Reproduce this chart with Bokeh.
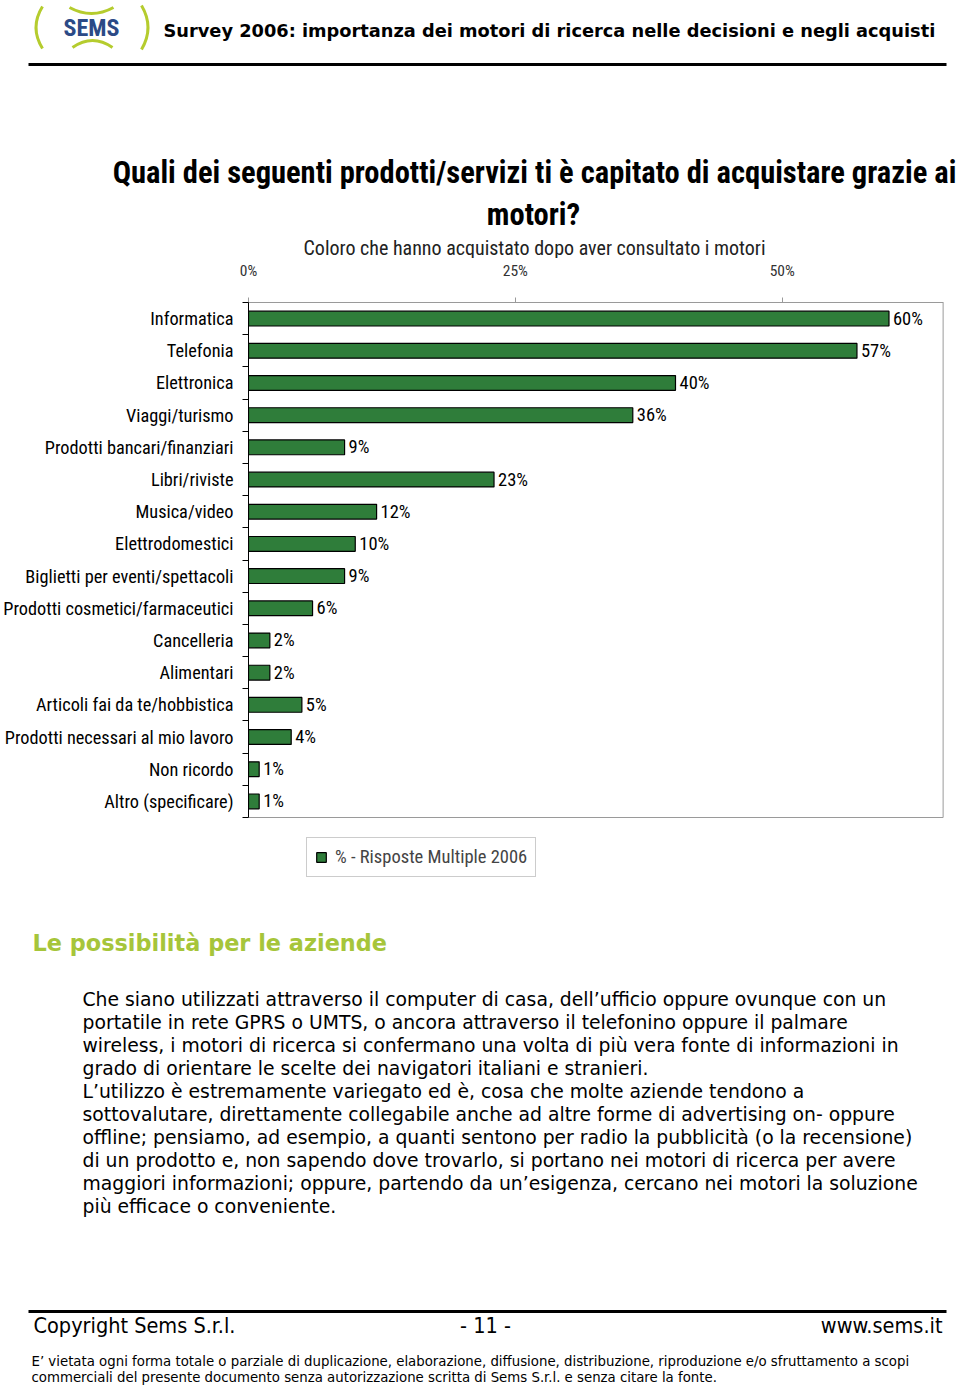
from bokeh.plotting import figure
from bokeh.models import Range1d, FixedTicker, Legend, LegendItem, ColumnDataSource
from bokeh.embed import file_html
from bokeh.resources import INLINE
from bokeh.core.properties import value

# ---------------- data ----------------
categories = ["Informatica", "Telefonia", "Elettronica", "Viaggi/turismo",
              "Prodotti bancari/finanziari", "Libri/riviste", "Musica/video",
              "Elettrodomestici", "Biglietti per eventi/spettacoli",
              "Prodotti cosmetici/farmaceutici", "Cancelleria", "Alimentari",
              "Articoli fai da te/hobbistica", "Prodotti necessari al mio lavoro",
              "Non ricordo", "Altro (specificare)"]
values = [60, 57, 40, 36, 9, 23, 12, 10, 9, 6, 2, 2, 5, 4, 1, 1]
x_ticks = [0, 25, 50]
x_tick_labels = ["0%", "25%", "50%"]
series_name = "% - Risposte Multiple 2006"

header_title = "Survey 2006: importanza dei motori di ricerca nelle decisioni e negli acquisti"
chart_title_1 = "Quali dei seguenti prodotti/servizi ti è capitato di acquistare grazie ai"
chart_title_2 = "motori?"
chart_subtitle = "Coloro che hanno acquistato dopo aver consultato i motori"
section_title = "Le possibilità per le aziende"
body_lines = [
    "Che siano utilizzati attraverso il computer di casa, dell’ufficio oppure ovunque con un",
    "portatile in rete GPRS o UMTS, o ancora attraverso il telefonino oppure il palmare",
    "wireless, i motori di ricerca si confermano una volta di più vera fonte di informazioni in",
    "grado di orientare le scelte dei navigatori italiani e stranieri.",
    "L’utilizzo è estremamente variegato ed è, cosa che molte aziende tendono a",
    "sottovalutare, direttamente collegabile anche ad altre forme di advertising on- oppure",
    "offline; pensiamo, ad esempio, a quanti sentono per radio la pubblicità (o la recensione)",
    "di un prodotto e, non sapendo dove trovarlo, si portano nei motori di ricerca per avere",
    "maggiori informazioni; oppure, partendo da un’esigenza, cercano nei motori la soluzione",
    "più efficace o conveniente.",
]
footer_left = "Copyright Sems S.r.l."
footer_mid = "- 11 -"
footer_right = "www.sems.it"
disclaimer = [
    "E’ vietata ogni forma totale o parziale di duplicazione, elaborazione, diffusione, distribuzione, riproduzione e/o sfruttamento a scopi",
    "commerciali del presente documento senza autorizzazione scritta di Sems S.r.l. e senza citare la fonte.",
]

NARROW_NAME = "Roboto Condensed, Liberation Sans"
NARROW = value(NARROW_NAME)
VERD = value("DejaVu Sans")
TAHO = value("DejaVu Sans Condensed")
GREEN_LOGO = "#b5cc2e"
W = 960


def pix_fig(h, top):
    f = figure(width=W, height=h, x_range=Range1d(0, W), y_range=Range1d(top + h, top),
               x_axis_location=None, y_axis_location=None, output_backend="svg",
               toolbar_location=None, min_border=0)
    f.grid.visible = False
    f.outline_line_color = None
    return f


# ---------------- header ----------------
H1 = 258
h = pix_fig(H1, 0)
h.quadratic(x0=[42, 141, 69, 72], y0=[6, 5, 7, 47], x1=[42, 141, 113, 112], y1=[48, 49, 7, 47],
            cx=[29, 154, 91, 92], cy=[27, 27, 19, 33], line_color=GREEN_LOGO, line_width=3)
h.text(x=[91], y=[27], text=["SEMS"], text_font=NARROW, text_font_style="bold",
       text_font_size="24px", text_color="#2b4a86", text_align="center", text_baseline="middle")
h.text(x=[163], y=[30], text=[header_title], text_font=VERD, text_font_style="bold",
       text_font_size="17.8px", text_color="black", text_align="left", text_baseline="middle")
h.segment(x0=[28], y0=[64], x1=[946], y1=[64], line_color="black", line_width=3)
h.text(x=[534, 533], y=[172, 214], text=[chart_title_1, chart_title_2], text_font=NARROW,
       text_font_style="bold", text_font_size="30.5px", text_color="black",
       text_align="center", text_baseline="middle")
h.text(x=[534], y=[247], text=[chart_subtitle], text_font=NARROW, text_font_size="20px",
       text_color="#222222", text_align="center", text_baseline="middle")

# ---------------- chart ----------------
H2 = 637
n = len(categories)
ys = [i + 0.5 for i in range(n)]
X_MAX = 65.2                       # visible extent of the percentage axis
Y_EXTRA = n * 78 / 515             # room under the plot box for the legend
src = ColumnDataSource(dict(y=ys, v=values, lab=[f"{v}%" for v in values]))
p = figure(width=W, height=H2, x_range=Range1d(0, X_MAX), y_range=Range1d(n + Y_EXTRA, 0),
           x_axis_location="above", output_backend="svg", toolbar_location=None,
           min_border_left=247, min_border_right=16, min_border_top=44, min_border_bottom=0)
p.grid.visible = False
p.outline_line_color = None

# plot-area box (right / bottom edges in grey)
p.quad(left=[0], right=[65.07], top=[0], bottom=[n], fill_color=None,
       line_color="#9a9a9a", line_width=1)

bars = p.hbar(y="y", right="v", left=0, height=0.46, source=src,
              fill_color="#2f7d3a", line_color="black", line_width=1.2)
p.text(x="v", y="y", text="lab", source=src, x_offset=4, text_font=NARROW,
       text_font_size="18.5px", text_color="black", text_baseline="middle", text_align="left")

xa = p.xaxis[0]
xa.ticker = FixedTicker(ticks=x_ticks)
xa.major_label_overrides = {t: l for t, l in zip(x_ticks, x_tick_labels)}
xa.bounds = (0, 65.07)
xa.axis_line_color = "#9a9a9a"
xa.major_tick_line_color = "#9a9a9a"
xa.major_tick_out = 5
xa.major_tick_in = 0
xa.minor_tick_line_color = None
xa.major_label_standoff = 18
xa.major_label_text_font = NARROW_NAME
xa.major_label_text_font_size = "15.5px"
xa.major_label_text_color = "#333333"

ya = p.yaxis[0]
ya.ticker = FixedTicker(ticks=ys, minor_ticks=list(range(n + 1)))
ya.major_label_overrides = {y: c for y, c in zip(ys, categories)}
ya.bounds = (0, n)
ya.axis_line_color = "black"
ya.major_tick_line_color = None
ya.major_tick_out = 0
ya.major_tick_in = 0
ya.minor_tick_line_color = "black"
ya.minor_tick_out = 6
ya.minor_tick_in = 0
ya.major_label_standoff = 9
ya.major_label_text_font = NARROW_NAME
ya.major_label_text_font_size = "18.3px"
ya.major_label_text_color = "black"

legend = Legend(items=[LegendItem(label=series_name, renderers=[bars])],
                location=(58, 18), orientation="horizontal", margin=0, padding=8,
                glyph_width=12, glyph_height=12, label_standoff=8,
                label_text_font=NARROW_NAME, label_text_font_size="18.5px",
                border_line_color="#9a9a9a", border_line_width=1,
                background_fill_color="white", background_fill_alpha=1.0)
p.add_layout(legend)

# ---------------- body & footer ----------------
TOP3 = H1 + H2
H3 = 1386 - TOP3
b = pix_fig(H3, TOP3)
b.text(x=[32], y=[942], text=[section_title], text_font=VERD, text_font_style="bold",
       text_font_size="22.4px", text_color="#a6c53a", text_align="left", text_baseline="middle")
b.text(x=[82] * len(body_lines), y=[999 + 23 * i for i in range(len(body_lines))], text=body_lines,
       text_font=VERD, text_font_size="18.8px", text_color="black", text_align="left",
       text_baseline="middle")
b.segment(x0=[28], y0=[1311], x1=[946], y1=[1311], line_color="black", line_width=3)
b.text(x=[33], y=[1325], text=[footer_left], text_font=TAHO, text_font_size="21.5px",
       text_color="black", text_align="left", text_baseline="middle")
b.text(x=[485], y=[1325], text=[footer_mid], text_font=TAHO, text_font_size="21.5px",
       text_color="black", text_align="center", text_baseline="middle")
b.text(x=[942], y=[1325], text=[footer_right], text_font=TAHO, text_font_size="21.5px",
       text_color="black", text_align="right", text_baseline="middle")
b.text(x=[31, 31], y=[1360, 1376], text=disclaimer, text_font=TAHO, text_font_size="14.8px",
       text_color="black", text_align="left", text_baseline="middle")

open("out.html", "w").write(file_html([h, p, b], INLINE))
